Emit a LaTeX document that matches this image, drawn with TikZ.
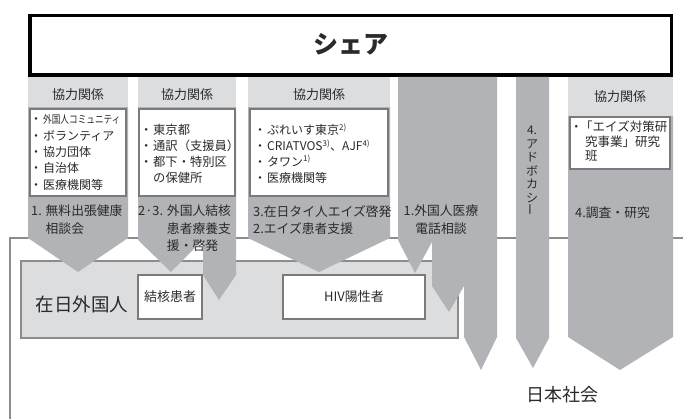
\documentclass[tikz,border=0pt]{standalone}
\usepackage{fontspec}
\setmainfont{Noto Sans CJK JP}
\usepackage{graphicx}
\definecolor{arrowgray}{HTML}{B2B3B7}
\definecolor{hdrgray}{HTML}{DCDDDF}
\definecolor{innergray}{HTML}{DCDDDF}
\definecolor{linegray}{HTML}{8C8C8C}
\definecolor{boxline}{HTML}{7A7A7A}
\definecolor{txt}{HTML}{2A2A2A}
\newcommand\bul{\makebox[11pt][l]{\hspace{-2pt}・}}
\tikzset{
  arrowshape/.style={fill=arrowgray, draw=none},
  hdrshape/.style={fill=hdrgray, draw=none},
  listbox/.style={draw=boxline, fill=white, line width=1.1pt},
  hdrtext/.style={font=\fontsize{13}{15}\selectfont, text=txt, inner sep=0pt},
  listtext/.style={align=left, anchor=west, inner sep=0pt, text=txt},
  arrowtext/.style={align=left, anchor=north west, inner sep=0pt, text=txt,
    font=\fontsize{12.8}{17.5}\selectfont},
  patient/.style={draw=boxline, fill=white, line width=1.2pt, inner sep=0pt,
    font=\fontsize{13}{15}\selectfont, text=txt},
  bigtext/.style={font=\fontsize{18.5}{20}\selectfont, text=txt, inner sep=0pt}
}
\begin{document}
\begin{tikzpicture}[x=1pt,y=-1pt]
\useasboundingbox (0,0) rectangle (683,419);
% outline of Japanese society
\draw[linegray, line width=1.4pt] (10,419) -- (10,238) -- (683,238);
% inner box
\node[draw=linegray, fill=innergray, line width=1.6pt, minimum width=437pt,
      minimum height=77pt, inner sep=0pt] (inner) at (239.5,299.5) {};
% top box
\node[draw=black, line width=3.5pt, fill=white, minimum width=641.5pt,
      minimum height=59.5pt, inner sep=0pt] (share) at (350.5,45.5) {};
\node[font=\fontsize{25}{28}\selectfont\bfseries, text=txt] (sharetext) at (350.5,44) {シェア};
% column 1
\fill[arrowshape] (28,107) -- (128,107) -- (128,238) -- (78,272) -- (28,238) -- cycle;
\fill[hdrshape] (28,77) rectangle (128,107);
\draw[listbox] (30,109) rectangle (126,196);
% column 2
\fill[arrowshape] (138,107) -- (236,107) -- (236,275) -- (219,300) -- (203,275) -- (203,240) -- (171,272) -- (138,240) -- cycle;
\fill[hdrshape] (138,77) rectangle (236,107);
\draw[listbox] (139,109) rectangle (235,196);
% column 3
\fill[arrowshape] (248,107) -- (390,107) -- (390,238) -- (319,272) -- (248,238) -- cycle;
\fill[hdrshape] (248,77) rectangle (390,107);
\draw[listbox] (250,109) rectangle (388,196);
% column 4
\fill[arrowshape] (398,77) -- (497,77) -- (497,337) -- (481,370) -- (464,337) -- (464,286) -- (449,312) -- (432,286) -- (432,242) -- (415,273) -- (398,240) -- cycle;
% column 5
\fill[arrowshape] (516,77) -- (549,77) -- (549,338) -- (533,368) -- (516,338) -- cycle;
% column 6
\fill[arrowshape] (568,115) -- (673,115) -- (673,337) -- (620,370) -- (568,337) -- cycle;
\fill[hdrshape] (568,77) rectangle (673,116);
\draw[listbox] (570,117) rectangle (670,169);
% headers
\node[hdrtext] (h1) at (78,95) {協力関係};
\node[hdrtext] (h2) at (187,95) {協力関係};
\node[hdrtext] (h3) at (319,95) {協力関係};
\node[hdrtext] (h6) at (620,97) {協力関係};
% list texts
\node[listtext, font=\fontsize{12}{16.3}\selectfont] (l1) at (32,152.5) {%
\bul\scalebox{0.72}[0.9]{外国人コミュニティ}\\\bul ボランティア\\\bul 協力団体\\\bul 自治体\\\bul 医療機関等};
\node[listtext, font=\fontsize{12.3}{16}\selectfont] (l2) at (142,154) {%
\bul 東京都\\\bul 通訳（支援員）\\\bul 都下・特別区\\\phantom{\bul}の保健所};
\node[listtext, font=\fontsize{12}{15.7}\selectfont] (l3) at (256,153.5) {%
\bul ぷれいす東京\textsuperscript{2)}\\\bul CRIATVOS\textsuperscript{3)}、AJF\textsuperscript{4)}\\\bul タワン\textsuperscript{1)}\\\bul 医療機関等};
\node[listtext, font=\fontsize{12.5}{14.5}\selectfont] (l6) at (572,141.5) {%
\makebox[8pt][l]{\hspace{-2pt}・}「エイズ対策研\\\hspace{13pt}究事業」研究\\\hspace{13pt}班};
% arrow texts
\node[arrowtext] (a1) at (31,205) {1. 無料出張健康\\\phantom{1. }相談会};
\node[arrowtext] (a2) at (138,205) {2·3. 外国人結核\\\phantom{2·3. }患者療養支\\\phantom{2·3. }援・啓発};
\node[arrowtext] (a3) at (253,205) {3.在日タイ人エイズ啓発\\2.エイズ患者支援};
\node[arrowtext, align=center, anchor=north] (a4) at (441,205) {1.外国人医療\\電話相談};
\node[arrowtext] (a6) at (575,207) {4.調査・研究};
\node[align=center, inner sep=0pt, text=txt, font=\fontsize{12}{13.5}\selectfont] (a5) at (532,171)
  {4.\\ア\\ド\\ボ\\カ\\シ\\\rotatebox{90}{ー}};
% patient boxes
\node[patient, minimum width=64pt, minimum height=44pt] (tb) at (170,297) {結核患者};
\node[patient, minimum width=142pt, minimum height=44pt] (hiv) at (354,297) {HIV陽性者};
% labels
\node[bigtext] (zainichi) at (82,304) {在日外国人};
\node[bigtext, font=\fontsize{18}{20}\selectfont] (nihon) at (562,395) {日本社会};
\end{tikzpicture}
\end{document}
